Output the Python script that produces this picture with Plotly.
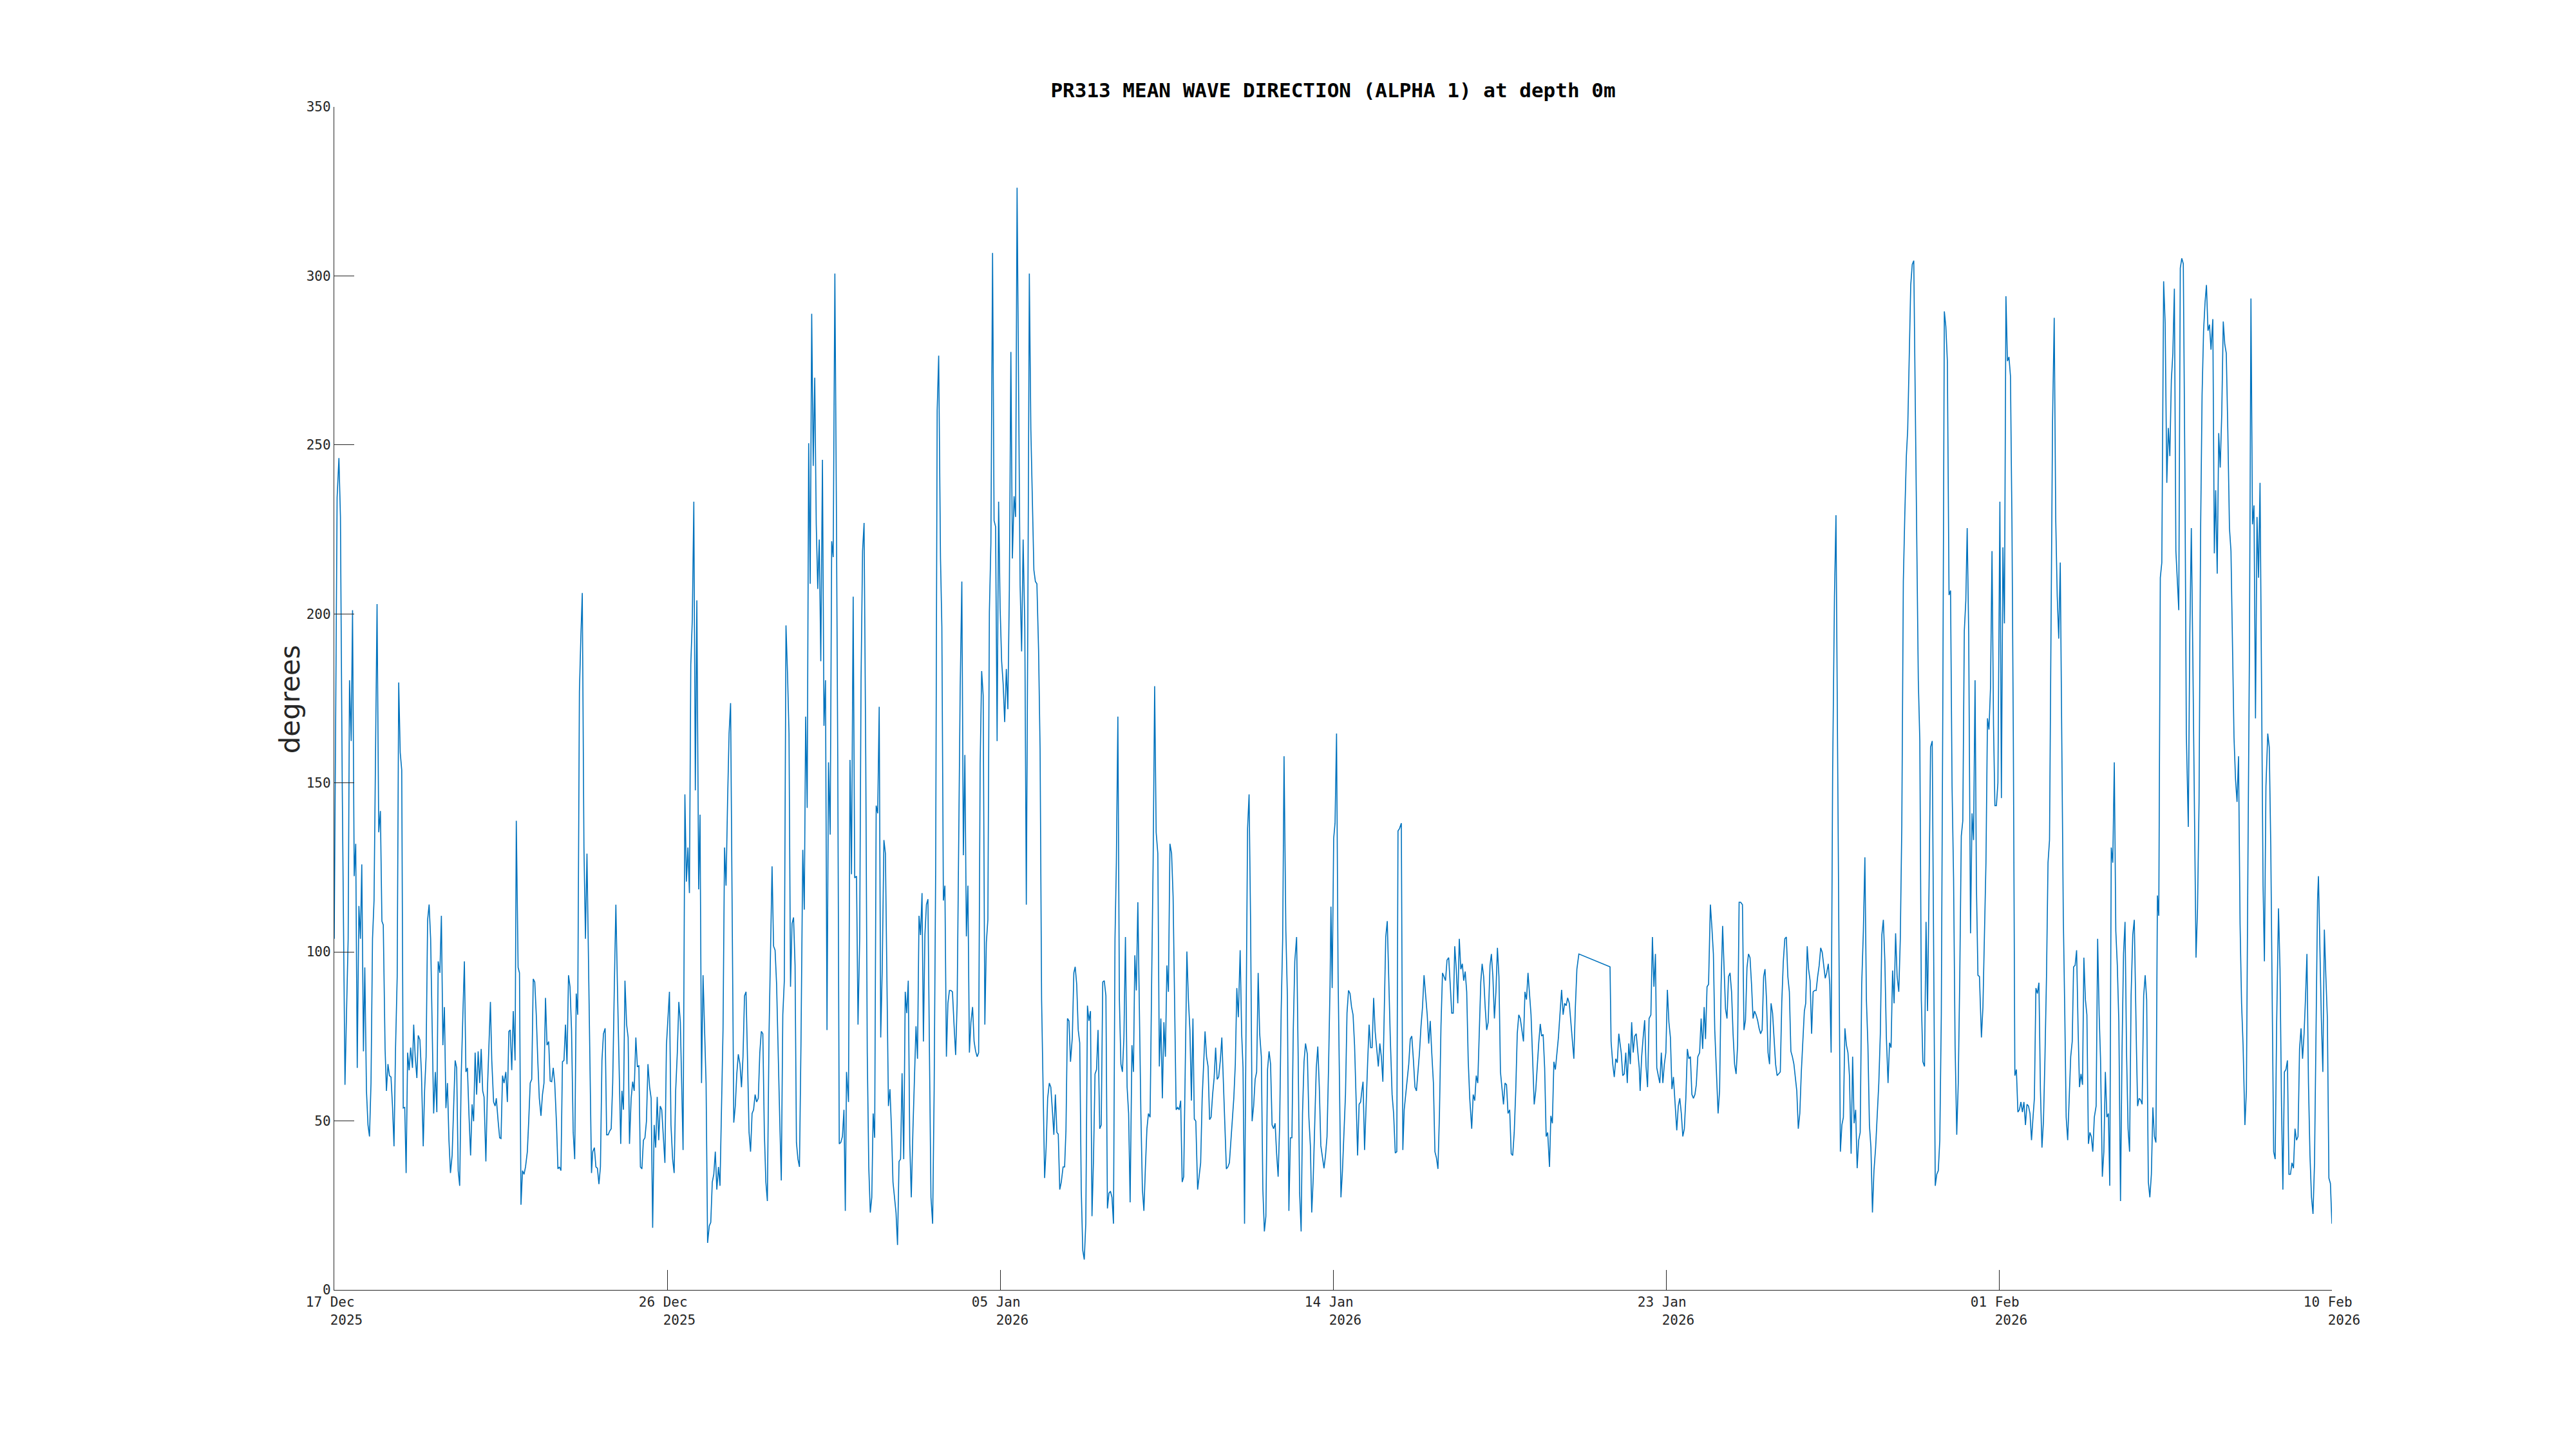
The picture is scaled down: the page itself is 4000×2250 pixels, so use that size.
import pandas as pd
import plotly.graph_objects as go

# ---- data: hours since series start, mean wave direction (degrees) ----
start_time = "2025-12-17 16:00"
span_hours = 1320

hours_s1 = [0.0,1.9,3.1,4.1,5.3,6.3,7.1,8.1,9.2,10.1,
            11.2,12.1,13.2,14.2,15.2,16.3,17.3,18.2,19.3,20.2,
            21.3,22.3,23.3,24.3,25.3,26.3,28.3,29.4,30.5,31.5,
            32.4,33.6,34.5,35.5,36.5,37.5,38.5,39.5,40.5,41.6,
            42.6,43.6,44.6,45.6,46.6,47.5,48.5,49.5,50.5,51.7,
            52.5,53.5,54.6,55.5,56.6,57.6,58.8,59.7,60.7,61.7,
            62.7,63.7,64.7,65.7,66.8,67.8,68.7,69.8,70.8,71.8,
            72.8,73.8,74.8,75.8,76.8,77.9,78.9,79.9,80.9,81.9,
            82.9,83.9,85.0,86.0,87.0,88.0,89.0,90.1,91.1,92.1,
            93.1,94.1,95.1,96.1,97.1,98.1,99.0,100.2,101.2,102.2,
            103.2,104.1,105.3,106.3,107.1,108.3,109.3,110.2,111.2,112.2,
            113.4,114.4,115.4,116.3,117.3,118.3,119.5,120.3,121.5,122.4,
            123.4,124.4,125.4,126.4,127.6,128.5,129.5,130.5,131.5,132.5,
            133.5,134.5,135.5,136.6,137.6,138.6,139.6,140.6,141.7,142.7,
            143.7,144.7,145.7,146.9,147.8,148.8,149.8,150.8,151.8,152.8,
            153.8,154.8,155.8,156.8,157.9,158.9,159.9,160.9,162.0,163.0,
            163.9,165.0,166.0,167.0,168.3]
deg_s1 = [103.9,234.4,246.1,228.7,148.9,97.2,60.7,81.4,103.9,180.4,
          162.4,201.1,122.4,132.0,65.7,113.6,103.9,125.9,70.6,95.4,
          58.9,48.8,45.4,61.2,103.9,115.2,202.9,135.4,141.7,109.1,
          108.0,71.3,58.9,66.8,63.4,63.0,54.4,42.5,71.3,92.7,
          179.7,159.0,153.8,53.8,54.0,34.6,70.2,65.0,71.7,65.7,
          78.5,69.0,62.7,75.3,74.0,64.5,42.5,58.9,69.0,109.5,
          114.0,103.9,76.9,52.2,64.5,52.6,97.2,93.8,110.7,72.4,
          83.7,53.8,61.2,44.3,34.6,39.8,54.0,67.9,65.7,35.3,
          30.8,63.4,81.4,97.2,64.5,65.7,52.2,39.8,54.9,49.9,
          70.2,57.8,70.6,61.2,71.3,58.9,57.1,38.0,58.9,72.4,
          85.2,67.9,55.6,54.4,56.7,49.9,45.0,44.8,63.4,61.2,
          64.5,55.6,76.5,76.9,65.0,82.5,67.9,138.8,95.4,93.8,
          25.2,35.3,34.2,36.4,40.9,49.9,61.2,62.3,92.0,91.1,
          81.4,67.9,56.7,51.5,57.8,61.2,86.4,72.4,73.5,61.8,
          61.6,65.7,61.2,48.8,35.8,36.4,35.3,67.5,67.9,78.5,
          66.8,93.1,89.7,76.9,46.6,38.7,87.7,81.4,177.0,193.9,
          206.2,130.9,103.9,129.1,88.2]

hours_s2 = [170.0,170.8,171.9,172.9,173.9,174.9,175.9,176.9,177.9,179.0,
            180.0,181.0,182.0,183.0,184.0,185.1,186.1,187.1,188.3,189.3,
            190.1,191.1,192.1,193.2,194.2,195.1,196.2,197.2,198.2,199.3,
            200.3,201.3,202.3,203.3,204.3,205.3,206.3,207.3,208.4,209.4,
            210.4,211.4,212.4,213.4,214.4,215.4,216.4,217.5,218.5,219.5,
            220.5,221.5,222.5,223.6,224.6,225.6,226.7,227.7,228.7,229.5,
            230.5,231.7,232.7,233.7,234.7,235.6,236.6,237.6,238.6,239.6,
            240.8,241.7,242.7,243.7,244.7,245.7,246.7,247.8,248.8,249.8,
            250.8,251.8,252.8,253.9,254.9,255.9,256.9,257.9,258.9,259.9,
            260.9,261.9,262.9,264.0,265.0,266.0,267.0,268.1,269.1,270.1,
            271.1,272.1,273.1,274.1,275.1,276.1,277.1,278.1,279.1,280.2,
            281.2,282.2,283.2,284.2,285.2,286.2,287.3,288.3,289.3,290.3,
            291.3,292.3,293.2,294.4,295.4,296.4,297.4,298.5,299.5,300.5,
            301.5,302.5,303.5,304.5,305.4,306.4,307.4,308.4,309.6,310.6,
            311.5,312.5,313.5,314.5,315.5,316.5,317.5,318.5,319.5,320.5,
            321.5,322.6,323.6,324.6,325.6,326.6,327.7,328.7,329.7,330.8,
            331.8,332.7,333.7,334.7,335.8,336.8,337.7,338.5]
deg_s2 = [34.6,40.9,42.1,36.4,36.0,31.3,36.4,67.9,75.8,77.4,
          45.9,45.9,47.0,47.7,61.2,90.4,114.0,90.4,61.2,43.2,
          58.9,53.3,91.5,78.5,74.7,43.2,56.7,61.6,58.9,74.7,
          66.1,66.3,36.4,35.8,44.3,45.0,49.9,66.8,60.0,56.7,
          18.4,48.8,42.1,57.1,44.3,54.4,53.3,44.3,37.6,72.4,
          80.3,88.2,48.8,38.7,34.6,58.9,70.2,85.2,79.2,61.2,
          41.4,146.6,120.8,130.9,117.4,184.9,198.4,233.2,147.8,204.0,
          118.5,140.6,61.2,93.1,76.9,61.2,13.9,18.9,20.0,31.9,
          34.2,40.9,29.7,36.4,30.8,52.2,76.9,130.9,119.6,144.4,
          164.6,173.6,108.4,49.5,54.4,63.9,69.7,66.8,60.0,69.0,
          87.0,88.2,67.9,46.6,40.9,52.2,53.3,57.8,55.6,56.7,
          70.2,76.5,75.8,46.6,31.9,26.3,75.8,101.7,125.3,101.7,
          100.5,90.4,70.2,49.9,32.4,81.4,91.5,196.6,182.6,164.6,
          89.7,108.4,110.2,96.0,43.6,38.7,36.4,72.4,130.2,112.5,
          169.6,142.6,250.5,208.9,288.8,243.8,269.9,226.5,207.4,222.0,
          186.0,245.6,166.9,180.4,76.9,156.1,134.7,221.5,216.8,300.7,
          232.1,157.9,43.2,43.6,45.4,53.3,23.4,64.5]

hours_s3 = [339.8,340.8,341.8,342.9,343.9,345.1,346.1,347.2,348.1,349.1,
            350.1,351.2,352.2,353.2,354.2,355.2,356.1,357.1,358.1,359.1,
            360.1,361.1,362.1,363.2,364.2,365.2,366.2,367.2,368.2,369.2,
            370.2,371.2,372.2,373.2,374.2,375.2,376.3,377.3,378.3,379.3,
            380.3,381.3,382.4,383.4,384.4,385.4,386.4,387.4,388.4,389.3,
            390.3,391.3,392.3,393.3,394.3,395.4,396.4,397.4,398.4,399.4,
            400.6,401.5,402.5,403.5,404.5,405.5,406.5,407.5,408.5,409.6,
            410.6,411.6,412.6,413.6,414.7,415.7,416.7,417.7,418.7,419.7,
            420.7,421.8,422.8,423.8,424.8,425.8,426.8,427.8,428.8,429.9,
            430.9,431.9,432.9,433.9,435.0,436.0,437.0,438.0,439.0,440.0,
            441.0,442.0,443.0,444.1,445.1,446.1,447.1,448.1,449.2,450.2,
            451.2,452.2,453.2,454.2,455.2,456.3,457.3,458.3,459.3,460.3,
            461.3,462.3,463.3,464.3,465.4,466.4,467.4,468.4,469.4,470.4,
            471.4,472.5,473.5,474.5,475.5,476.5,477.5,478.4,479.4,480.4,
            481.6,482.6,483.5,484.5,485.5,486.5,487.7,488.7,489.6,490.6,
            491.6,492.6,493.6,494.6,495.6,496.6,497.7,498.7,499.7,500.7,
            501.7,502.7,503.7,504.7,505.8,506.8,507.8,508.8]
deg_s3 = [55.6,156.8,123.0,205.1,121.9,122.4,78.5,103.9,180.4,218.6,
          226.9,157.9,70.2,36.4,22.9,27.4,52.2,45.0,143.3,141.0,
          172.5,74.7,94.9,133.1,129.1,92.7,54.4,59.4,47.7,31.9,
          27.4,22.9,13.3,38.0,38.7,64.1,38.7,88.2,81.9,91.5,
          43.2,27.4,47.7,63.4,78.0,68.4,110.7,105.0,117.4,73.5,
          105.0,114.0,115.6,70.2,27.4,19.6,58.9,124.1,260.2,276.4,
          216.4,196.1,115.2,119.6,69.0,84.8,88.6,88.6,88.2,78.0,
          69.5,84.8,137.6,178.1,209.6,128.6,158.3,104.6,119.6,70.2,
          79.2,83.7,73.5,70.6,69.0,70.2,155.6,183.1,175.9,78.5,
          102.8,109.5,200.6,220.9,306.8,227.6,225.8,162.4,233.2,201.7,
          186.0,179.3,168.0,183.7,171.8,207.4,277.5,216.4,234.8,228.7,
          326.1,265.8,208.5,188.9,222.0,196.1,114.0,198.4,300.7,254.6,
          232.1,213.0,209.6,208.9,189.4,160.1,85.9,56.7,33.1,42.1,
          56.7,61.2,60.0,53.3,45.9,57.8,46.6,46.1,29.7,31.9,
          36.4,36.4,47.2,80.3,79.6,67.5,74.7,93.8,95.6,90.4,
          76.9,73.1,29.7,11.7,9.0,19.6,84.1,79.6,82.5,21.8,
          38.7,63.9,65.2,76.9,47.7,48.8,91.1,91.5]

hours_s4 = [509.9,510.9,511.9,512.9,513.9,514.9,515.9,516.8,517.8,518.8,
            519.8,520.8,521.8,522.8,523.9,524.9,525.9,527.1,528.1,529.0,
            530.0,531.0,532.0,533.0,534.0,535.0,536.0,537.0,538.0,539.1,
            540.1,541.1,542.1,543.1,544.2,545.2,546.2,547.2,548.2,549.2,
            550.2,551.2,552.2,553.3,554.3,555.3,556.3,557.3,558.3,559.3,
            560.3,561.3,562.2,563.4,564.4,565.4,566.4,567.4,568.3,569.3,
            570.5,571.5,572.5,573.5,574.4,575.4,576.4,577.4,578.4,579.4,
            580.4,581.4,582.4,583.4,584.4,585.5,586.5,587.5,588.5,589.5,
            590.5,591.5,592.5,593.5,594.4,595.4,596.4,597.4,598.6,599.6,
            600.5,601.5,602.5,603.5,604.5,605.5,606.5,607.5,608.5,609.5,
            610.5,611.5,612.6,613.6,614.6,615.6,616.7,617.7,618.7,619.7,
            620.7,621.7,622.7,623.7,624.7,625.7,626.7,627.6,628.8,629.8,
            630.8,631.8,632.8,633.7,634.7,635.9,636.9,637.9,638.9,639.8,
            640.8,641.8,643.0,644.0,645.0,645.9,646.9,647.9,648.9,649.9,
            650.9,651.9,653.0,654.0,655.0,656.0,657.0,658.0,658.6,659.4,
            660.4,661.3,662.3,663.3,664.3,665.2,666.2,667.2,668.2,669.2,
            670.2,671.2,672.2,673.2,674.2,675.2,676.2,677.2,678.2,679.0]
deg_s4 = [87.0,24.1,28.6,29.2,27.4,19.6,103.9,126.4,169.6,85.9,
          66.8,64.5,74.7,104.4,60.0,52.2,25.9,72.4,64.5,99.0,
          88.6,114.7,81.4,52.2,29.7,23.4,36.4,47.7,52.2,51.1,
          90.4,126.4,178.6,135.4,129.1,66.1,80.3,56.7,79.2,69.0,
          96.0,88.2,132.0,129.1,116.3,81.4,53.3,54.0,53.3,56.0,
          31.9,33.5,65.7,100.1,85.9,76.9,56.0,80.3,50.6,49.9,
          29.7,33.5,37.6,56.7,67.5,76.5,69.0,66.1,50.4,51.1,
          57.8,62.7,71.7,62.3,63.0,67.9,74.7,63.4,48.8,35.8,
          36.4,37.6,44.3,51.1,56.7,66.8,89.3,80.7,100.5,75.8,
          65.7,19.6,81.4,136.5,146.6,108.4,49.9,54.4,62.3,64.5,
          93.8,75.8,69.0,29.7,17.3,21.8,65.2,70.6,66.8,48.8,
          47.7,49.3,40.3,33.5,48.8,82.5,103.9,157.9,106.2,87.0,
          23.4,45.0,45.0,76.9,97.2,104.4,70.2,28.6,17.3,52.2,
          67.5,72.9,69.7,51.1,42.7,22.9,33.1,48.8,65.7,72.0,
          60.0,42.7,39.4,36.0,39.8,45.4,65.7,90.4,113.4,89.3,
          133.6,138.1,164.6,93.8,58.9,27.4,35.3,45.4,57.8,81.9,
          88.6,87.7,83.7,81.4,72.4,56.7,39.8,54.9,55.6,58.9]

hours_s5 = [679.8,680.8,681.8,682.8,683.8,684.8,685.8,686.8,687.8,688.7,
            689.9,690.9,691.9,692.9,693.9,694.8,695.8,696.8,697.8,699.0,
            700.0,701.1,702.1,702.9,703.9,705.1,706.1,707.0,708.0,709.0,
            710.0,711.0,712.0,713.1,714.1,715.1,716.1,717.1,718.1,719.1,
            720.1,721.2,722.2,723.2,724.2,725.2,726.3,727.3,728.3,729.3,
            730.3,731.3,732.3,733.3,734.3,735.3,736.4,737.4,738.4,739.4,
            740.4,741.4,742.4,743.4,744.4,745.4,746.3,747.3,748.3,749.3,
            750.3,751.6,752.6,753.6,754.6,755.6,756.6,757.6,758.5,759.5,
            760.5,761.5,762.5,763.7,764.6,765.6,766.6,767.6,768.6,769.6,
            770.6,771.6,772.6,773.6,774.6,775.6,776.7,777.7,778.7,779.7,
            780.7,781.7,782.7,783.7,784.7,785.8,786.8,787.8,788.8,789.8,
            790.8,791.9,792.9,793.9,794.9,795.9,796.9,797.8,798.8,799.8,
            800.8,801.8,803.0,803.9,804.9,805.9,806.9,807.9,808.9,809.9,
            811.0,812.0,813.0,814.0,815.0,816.1,817.1,818.1,819.1,820.1,
            821.1,822.4,843.0,843.7,844.8,845.8,846.8,847.8,848.8]
deg_s5 = [61.6,41.4,55.6,66.8,78.5,71.7,71.7,86.4,76.5,71.3,
          66.1,72.9,69.0,61.6,84.8,104.4,109.1,89.3,74.7,57.8,
          52.2,40.5,40.9,135.8,136.5,138.1,41.4,53.3,57.8,62.3,
          66.8,74.2,75.1,67.9,60.0,58.9,64.5,70.2,78.0,83.7,
          93.1,87.0,81.4,72.9,79.6,70.2,61.2,40.9,39.1,35.8,
          52.2,78.0,93.8,92.7,91.5,97.6,98.3,90.4,81.9,81.9,
          101.7,94.9,84.8,103.9,94.9,96.5,91.5,94.2,88.2,67.9,
          56.7,47.7,57.8,56.0,63.4,61.2,78.0,91.1,96.5,92.7,
          83.7,76.9,79.2,96.0,99.4,92.7,80.3,88.2,101.2,92.7,
          64.5,58.9,54.9,61.2,60.7,52.2,53.3,40.3,39.8,46.6,
          58.9,75.8,81.4,80.3,76.9,73.5,88.2,85.9,93.8,88.2,
          81.4,67.9,54.9,58.9,66.8,73.1,78.7,75.1,75.6,65.7,
          45.4,46.6,36.4,51.5,49.3,67.5,65.2,70.2,74.7,81.4,
          88.8,81.4,84.8,84.1,86.4,84.8,79.2,73.5,68.4,83.7,
          94.9,99.4,95.6,73.5,66.8,63.0,68.4,67.2,75.8]

hours_s6 = [850.4,851.4,852.4,853.4,854.4,855.4,856.4,857.3,858.3,859.3,
            860.3,861.3,862.3,862.9,863.9,864.9,865.9,866.8,867.8,868.8,
            870.0,871.0,872.0,873.0,873.9,874.9,875.9,876.9,877.9,878.9,
            879.9,880.9,881.9,882.9,883.9,884.9,885.9,887.1,888.1,889.1,
            890.1,891.1,892.1,893.1,894.1,895.1,896.1,897.1,898.1,899.1,
            900.0,901.0,902.2,903.2,904.2,905.2,906.1,907.1,908.1,909.3,
            910.3,911.3,912.2,913.4,914.4,915.4,916.4,917.4,918.3,919.3,
            920.3,921.3,922.3,923.3,924.3,925.3,926.3,927.3,928.3,929.3,
            930.5,931.5,932.5,933.5,934.5,935.5,936.5,937.5,938.5,939.5,
            940.5,941.5,942.5,943.5,944.5,945.4,946.4,947.4,948.4,949.4,
            950.4,951.4,952.4,953.4,954.4,955.5,956.5,957.5,958.5,959.5,
            960.5,961.5,962.5,963.5,964.5,965.4,966.4,967.4,968.4,969.4,
            970.4,971.4,972.3,973.3,974.2,975.2,976.2,977.2,978.2,979.2,
            980.2,981.2,982.2,983.2,984.2,985.2,986.2,987.2,988.2,989.1,
            990.1,991.3,992.3,993.3,994.2,995.2,996.2,997.2,998.2,999.2,
            1000.2,1001.2,1002.3,1003.3,1004.3,1005.3,1006.3,1007.3,1008.3,1009.3,
            1010.4,1011.4,1012.4,1013.4,1014.4,1015.4,1016.4,1017.4,1018.5,1019.5]
deg_s6 = [70.2,63.4,63.9,70.2,61.2,72.9,66.8,79.2,70.2,75.1,
          75.8,71.3,65.7,58.9,69.0,74.7,79.8,66.1,60.0,80.3,
          81.4,104.4,89.7,99.4,65.7,63.4,61.2,70.2,61.2,66.8,
          70.2,88.8,79.2,74.7,59.4,63.0,56.7,47.2,54.4,56.7,
          52.2,45.4,47.7,56.7,71.3,68.4,69.0,57.8,56.7,57.8,
          60.7,69.0,70.2,80.3,71.3,83.7,74.2,89.7,90.4,114.0,
          107.3,99.4,76.9,62.3,52.2,58.9,90.4,107.7,97.2,83.2,
          80.3,92.7,93.8,88.2,75.8,66.8,63.9,72.4,114.7,114.7,
          114.0,76.9,79.8,95.4,99.4,98.3,90.4,80.3,82.5,81.4,
          79.8,77.4,75.8,76.9,92.7,94.9,85.9,70.2,66.8,84.8,
          81.9,74.7,66.8,63.4,63.9,64.5,85.2,97.2,103.9,104.4,
          92.7,88.2,70.6,69.0,66.8,63.4,58.9,47.7,52.2,64.5,
          72.9,82.5,84.8,101.7,94.9,91.5,75.8,88.2,88.6,88.6,
          92.7,96.0,101.2,99.9,96.0,92.2,93.8,96.5,90.4,70.2,
          153.4,205.1,229.2,164.6,88.2,40.9,48.8,51.1,77.4,72.4,
          70.2,63.4,40.3,69.0,49.3,53.3,36.0,44.3,46.6,90.4,
          106.2,128.0,85.9,72.4,48.8,42.1,22.9,35.3,42.1,52.2]

hours_s7 = [1020.6,1021.6,1022.6,1023.6,1024.6,1025.6,1026.7,1027.7,1028.7,1029.7,
            1030.7,1031.7,1032.7,1033.8,1034.8,1035.8,1036.8,1037.8,1038.8,1039.7,
            1040.7,1041.7,1042.7,1043.7,1044.7,1045.7,1046.7,1047.7,1048.7,1049.7,
            1050.8,1051.8,1052.8,1053.8,1054.8,1055.9,1056.9,1057.9,1058.9,1059.9,
            1060.9,1061.9,1062.9,1063.9,1064.9,1065.9,1067.0,1068.0,1069.0,1070.0,
            1071.0,1072.1,1073.1,1074.1,1075.1,1076.1,1077.1,1078.1,1079.0,1080.0,
            1081.2,1082.2,1083.2,1084.2,1085.1,1086.1,1087.1,1088.4,1089.4,1090.4,
            1091.4,1092.4,1093.4,1094.4,1095.4,1096.4,1097.3,1098.3,1099.3,1100.6,
            1101.6,1102.6,1103.6,1104.6,1105.6,1106.6,1107.6,1108.6,1109.5,1110.5,
            1111.5,1112.5,1113.5,1114.5,1115.5,1116.5,1117.5,1118.5,1119.5,1120.5,
            1121.5,1122.5,1123.4,1124.4,1125.4,1126.4,1127.4,1128.4,1129.4,1130.4,
            1131.4,1132.4,1133.4,1134.4,1135.4,1136.5,1137.5,1138.5,1139.5,1140.5,
            1141.5,1142.5,1143.5,1144.4,1145.4,1146.4,1147.4,1148.4,1149.3,1150.3,
            1151.3,1152.3,1153.2,1154.2,1155.2,1156.1,1157.1,1158.1,1159.1,1160.1,
            1161.0,1162.0,1163.0,1164.2,1165.2,1166.2,1167.1,1168.3,1169.3,1170.3,
            1171.3,1172.3,1173.2,1174.2,1175.2,1176.2,1177.2,1178.2,1179.2,1180.3,
            1181.3,1182.3,1183.3,1184.3,1185.3,1186.3,1187.3,1188.4,1189.4]
deg_s7 = [61.2,75.8,105.0,109.5,97.2,74.7,61.2,73.1,71.7,94.5,
          84.8,105.5,92.7,88.2,103.9,137.6,209.6,229.8,246.7,254.6,
          279.8,297.3,303.4,304.5,262.5,225.4,180.4,162.4,85.9,67.5,
          66.1,108.9,82.5,119.6,160.6,162.4,101.7,30.8,34.2,35.3,
          44.3,81.4,173.6,289.5,285.0,274.8,205.6,206.9,148.9,121.9,
          72.4,45.9,61.2,92.7,134.3,138.8,195.0,204.0,225.4,193.9,
          105.5,141.0,133.1,180.4,119.6,93.1,92.7,74.7,83.7,103.9,
          126.4,169.1,165.8,178.1,218.6,166.9,143.3,143.3,150.0,233.2,
          145.5,219.7,197.2,294.0,274.8,276.0,270.3,225.4,162.4,63.4,
          65.2,52.6,53.3,55.6,52.6,55.6,48.8,54.9,54.4,52.2,
          44.3,51.1,56.7,89.3,87.7,90.9,58.9,42.1,49.9,69.0,
          92.7,126.4,133.1,196.1,256.8,287.6,228.0,205.1,192.7,215.2,
          166.9,110.7,81.4,51.1,44.3,58.9,69.0,73.5,95.6,96.0,
          100.5,76.9,60.0,63.9,60.7,98.3,85.9,81.4,43.2,46.6,
          45.4,40.9,51.1,54.4,103.9,81.4,68.4,33.5,40.9,64.5,
          51.1,52.2,30.8,130.9,126.4,156.1,106.2,96.0,79.2,26.3,
          70.2,99.4,108.9,70.2,47.7,40.9,87.0,105.0,109.5]

hours_s8 = [1190.9,1191.6,1192.6,1193.6,1194.6,1195.6,1196.6,1197.6,1198.7,1199.7,
            1200.7,1201.7,1202.7,1203.7,1204.7,1205.6,1206.6,1207.6,1208.8,1209.8,
            1210.9,1211.9,1212.9,1213.9,1214.9,1215.9,1216.9,1217.9,1218.8,1219.8,
            1220.8,1221.8,1222.8,1223.8,1225.1,1226.1,1227.1,1228.1,1229.1,1230.2,
            1231.2,1232.2,1233.2,1234.2,1235.2,1236.2,1237.1,1238.1,1239.1,1240.1,
            1241.3,1242.3,1243.2,1244.2,1245.2,1246.2,1247.2,1248.2,1249.2,1250.2,
            1251.2,1252.3,1253.3,1254.3,1255.3,1256.3,1257.3,1258.3,1259.3,1260.3,
            1261.3,1262.5,1263.5,1264.5,1265.5,1266.5,1267.5,1268.5,1269.5,1270.5,
            1271.5,1272.5,1273.5,1274.5,1275.4,1276.4,1277.6,1278.6,1279.6,1280.6,
            1281.5,1282.5,1283.5,1284.7,1285.7,1286.7,1287.6,1288.6,1289.6,1290.6,
            1291.6,1292.6,1293.6,1294.6,1295.6,1296.6,1297.6,1298.6,1299.6,1300.6,
            1301.6,1302.5,1303.5,1304.5,1305.5,1306.5,1307.5,1308.5,1309.5,1310.5,
            1311.1,1312.1,1313.0,1314.0,1315.0,1316.0,1317.0,1318.0,1319.0,1320.0]
deg_s8 = [70.2,54.4,56.7,56.2,54.9,87.0,93.1,85.9,31.9,27.4,
          34.2,54.0,45.4,43.6,116.7,110.7,210.7,215.2,298.4,286.1,
          238.8,255.0,246.7,269.2,277.1,296.2,218.6,209.6,201.1,302.3,
          305.2,303.6,245.6,164.6,137.0,193.9,225.4,187.1,144.4,98.3,
          112.9,144.4,223.1,264.7,283.8,292.4,297.3,283.8,285.6,278.2,
          287.2,217.9,236.6,211.9,253.5,243.3,259.1,286.5,279.8,277.1,
          254.6,225.4,218.6,189.8,163.5,151.1,144.4,157.9,108.4,84.8,
          72.4,48.8,58.9,126.4,189.4,293.3,226.5,232.1,169.1,228.7,
          210.7,238.8,171.4,119.6,97.2,148.9,164.6,160.6,130.9,81.4,
          40.9,38.7,79.2,112.9,94.9,54.4,29.7,64.5,65.2,67.9,
          34.2,34.2,37.6,36.0,47.7,44.3,45.4,71.3,77.4,68.4,
          75.8,85.9,99.4,61.2,39.8,27.4,22.5,37.6,74.7,115.2,
          122.4,97.2,80.3,64.5,106.6,92.7,80.3,33.1,31.5,19.6]

tick_days = ["17 Dec", "26 Dec", "05 Jan", "14 Jan", "23 Jan", "01 Feb", "10 Feb"]
tick_years = ["2025", "2025", "2026", "2026", "2026", "2026", "2026"]
y_ticks = [0, 50, 100, 150, 200, 250, 300, 350]

# ---- assemble ----
hour_segments = [hours_s1, hours_s2, hours_s3, hours_s4, hours_s5, hours_s6, hours_s7, hours_s8]
deg_segments = [deg_s1, deg_s2, deg_s3, deg_s4, deg_s5, deg_s6, deg_s7, deg_s8]
all_hours, all_deg = [], []
for i, (h, d) in enumerate(zip(hour_segments, deg_segments)):
    assert len(h) == len(d), f"segment {i+1}: {len(h)} hours vs {len(d)} values"
    all_hours += h
    all_deg += d

t0 = pd.Timestamp(start_time)
times = t0 + pd.to_timedelta(all_hours, unit="h")
t_end = t0 + pd.Timedelta(hours=span_hours)
n_ticks = len(tick_days)
tick_pos = [t0 + (t_end - t0) * k / (n_ticks - 1) for k in range(n_ticks)]
NB = "\u00a0"
tick_text = [f"{d}{NB}<br>{NB*3}{y}" for d, y in zip(tick_days, tick_years)]

axis_color = "#262626"
mono = "DejaVu Sans Mono"

fig = go.Figure()
fig.add_trace(go.Scatter(
    x=times, y=all_deg, mode="lines",
    line=dict(color="#0072BD", width=1.6),
    showlegend=False, hoverinfo="x+y",
))

fig.update_layout(
    width=4000, height=2250, autosize=False,
    margin=dict(l=511, r=387, t=158, b=255, pad=0),
    paper_bgcolor="white", plot_bgcolor="white",
    title=dict(
        text="<b>PR313 MEAN WAVE DIRECTION (ALPHA 1) at depth 0m</b>",
        font=dict(family=mono, size=31, color="black"),
        x=0.5, xref="paper", xanchor="center",
        y=1 - 132 / 2250, yref="container", yanchor="middle",
    ),
    xaxis=dict(
        range=[t0, t_end], tickmode="array", tickvals=tick_pos, ticktext=tick_text,
        ticks="inside", ticklen=31, tickwidth=1.2, tickcolor=axis_color,
        showline=True, linecolor=axis_color, linewidth=1.3, mirror=False,
        showgrid=False, zeroline=False,
        tickfont=dict(family=mono, size=21, color=axis_color),
    ),
    yaxis=dict(
        range=[0, 350], tickmode="array", tickvals=y_ticks,
        ticks="inside", ticklen=31, tickwidth=1.2, tickcolor=axis_color,
        showline=True, linecolor=axis_color, linewidth=1.3, mirror=False,
        showgrid=False, zeroline=False,
        tickfont=dict(family=mono, size=21, color=axis_color),
    ),
    annotations=[dict(
        text="degrees", textangle=-90,
        x=(450 - 519) / 3102, xref="paper", xanchor="center",
        y=0.499, yref="paper", yanchor="middle",
        showarrow=False,
        font=dict(family="DejaVu Sans", size=42, color=axis_color),
    )],
)

fig.write_html("out.html")
